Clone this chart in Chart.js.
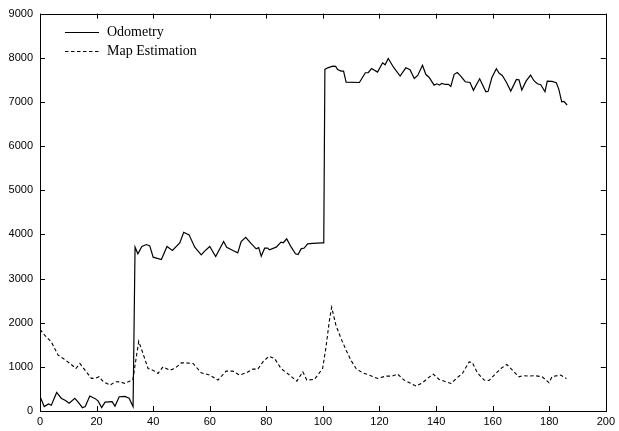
<!DOCTYPE html>
<html>
<head>
<meta charset="utf-8">
<script src="https://cdn.jsdelivr.net/npm/chart.js@4.4.1/dist/chart.umd.min.js"></script>
<style>
    html, body { margin: 0; padding: 0; background: #fff; }
    #wrap { width: 619px; height: 431px; }
</style>
</head>
<body>
<div id="wrap"><canvas id="odoChart" width="619" height="431"></canvas></div>
<script>
// Axis setup
const X_MIN = 0, X_MAX = 200, X_STEP = 20;
const Y_MIN = 0, Y_MAX = 9000, Y_STEP = 1000;
const seriesNames = ['Odometry', 'Map Estimation'];

// Odometry (solid)
const odoX = [0, 1.5, 3, 4, 5.9, 7.5, 9, 10.3, 12.3, 13.5, 15, 16, 17.6, 19.5, 20.5, 21.8, 23, 25.5, 26.5, 28, 30, 31.5, 32.9,
    33.6, 34.6, 36, 37.6, 38.8, 40, 42.9, 44.9, 46.8, 49.4, 50.8, 52.7, 54.7, 57, 58.2, 60, 62.1, 64.9, 66, 68.2, 69.9,
    71.1, 72.7, 74.5, 76.4, 77.3, 78.2, 79.4, 80.5, 81.1, 83.5, 85.2, 86, 87.2, 88.8, 90.3, 91.2, 92.3, 93.4, 94.6, 96.4, 99.7,
    100.3, 100.7, 101.7, 103.5, 104.5, 105.2, 106.4, 107.3, 108.2, 112.9, 115, 116, 117.2, 119.3, 121.1, 122, 123.1, 125,
    127.3, 129.3, 130.8, 132.3, 133.5, 135.2, 136.4, 137.5, 139.3, 140.3, 141.2, 142, 143.3, 144.4, 145.2, 146.4, 147.5,
    148.8, 150.3, 152, 153.2, 155.4, 157.6, 158.4, 159.7, 161.3, 162.3, 163.4, 164.8, 166.4, 168.4, 169.3, 170.3, 171.8,
    173.4, 174.6, 175.8, 177, 178.5, 179.3, 181, 182.5, 183.4, 184.4, 185.2, 186.3];
const odoY = [330, 100, 160, 130, 420, 290, 240, 175, 285, 200, 75, 100, 340, 280, 230, 80, 200, 210, 110, 323, 330, 290, 100,
    3710, 3560, 3725, 3770, 3740, 3484, 3431, 3725, 3634, 3808, 4048, 3989, 3710, 3537, 3620, 3725, 3499, 3838, 3710, 3634, 3582,
    3838, 3935, 3800, 3672, 3700, 3506, 3687, 3690, 3650, 3710, 3823, 3810, 3898, 3710, 3560, 3545, 3672, 3690, 3785, 3795, 3808,
    3808, 7735, 7772, 7810, 7805, 7735, 7698, 7700, 7450, 7440, 7660, 7665, 7756, 7675, 7885, 7840, 7983, 7780,
    7585, 7772, 7730, 7532, 7600, 7830, 7620, 7560, 7380, 7410, 7380, 7420, 7395, 7400, 7350, 7625, 7665,
    7580, 7457, 7440, 7262, 7524, 7231, 7240, 7546, 7750, 7650, 7600, 7450, 7246, 7509, 7500, 7269, 7470,
    7607, 7480, 7411, 7390, 7231, 7472, 7465, 7434, 7284, 7000, 7010, 6930];

// Map Estimation (dashed)
const mapX = [0, 1.7, 4, 6.4, 8.2, 10.6, 12.7, 14.1, 15.9, 18.2, 19.5, 20.9, 22.4, 24.8, 26.6, 28.3, 30, 31.8, 32.8,
    34.9, 36.4, 38.2, 40, 41.7, 43.5, 45.9, 47.6, 50, 51.7, 54.1, 57, 60, 62.9, 65.8, 68.2, 70.5, 72.9, 75.2, 77, 78.8,
    80.9, 82.9, 85.2, 88.2, 90.8, 92.9, 94.3, 97, 99.9, 101.1, 102.3, 103.1, 104.6, 106.4, 108.2, 109.9, 111.7, 114,
    116.4, 119.3, 122.3, 124.5, 126.4, 128.7, 131.1, 132.9, 135.2, 137, 139, 141.1, 143.5, 145.3, 147.6, 149.3, 151.7,
    152.8, 154.6, 157, 158.7, 161.1, 162.9, 165, 167, 169.3, 170.8, 172.8, 175, 177.5, 179.9, 181, 184, 186.1];
const mapY = [1850, 1715, 1565, 1264, 1190, 1076, 963, 1076, 925, 738, 740, 775, 662, 587, 662, 660, 625, 677, 700,
    1580, 1302, 963, 920, 850, 1000, 925, 963, 1090, 1090, 1076, 865, 813, 700, 903, 903, 813, 865, 948, 950, 1113,
    1241, 1190, 963, 813, 677, 888, 700, 715, 963, 1451, 2054, 2350, 1941, 1641, 1377, 1151, 963, 865,
    813, 738, 790, 790, 835, 700, 625, 564, 640, 738, 835, 715, 662, 625, 760, 850, 1113,
    1100, 865, 700, 690, 850, 963, 1054, 925, 775, 800, 790, 800, 775, 640, 780, 813, 738];

const toPoints = (xs, ys) => xs.map((x, i) => ({ x: x, y: ys[i] }));

// Box, inward ticks on all four sides, legend inside the plot
const framePlugin = {
    id: 'frame',
    afterDraw(chart) {
        const { ctx, chartArea: a, scales } = chart;
        ctx.save();
        ctx.strokeStyle = '#000';
        ctx.lineWidth = 1;
        ctx.setLineDash([]);
        ctx.strokeRect(Math.round(a.left) + 0.5, Math.round(a.top) + 0.5,
            Math.round(a.right - a.left), Math.round(a.bottom - a.top));

        const TL = 5;
        ctx.beginPath();
        scales.x.ticks.forEach(t => {
            const px = Math.round(scales.x.getPixelForValue(t.value)) + 0.5;
            ctx.moveTo(px, a.bottom); ctx.lineTo(px, a.bottom - TL);
            ctx.moveTo(px, a.top); ctx.lineTo(px, a.top + TL);
        });
        scales.y.ticks.forEach(t => {
            const py = Math.round(scales.y.getPixelForValue(t.value)) + 0.5;
            ctx.moveTo(a.left, py); ctx.lineTo(a.left + TL, py);
            ctx.moveTo(a.right, py); ctx.lineTo(a.right - TL, py);
        });
        ctx.stroke();

        // legend
        ctx.font = '14px "Liberation Serif", "Times New Roman", serif';
        ctx.fillStyle = '#000';
        ctx.textBaseline = 'middle';
        chart.data.datasets.forEach((ds, i) => {
            const y = 32.5 + i * 19;
            ctx.lineWidth = ds.borderWidth;
            ctx.setLineDash(ds.borderDash || []);
            ctx.beginPath();
            ctx.moveTo(65, y); ctx.lineTo(99, y);
            ctx.stroke();
            ctx.fillText(ds.label, 107, y);
        });
        ctx.restore();
    }
};

const ctx = document.getElementById('odoChart').getContext('2d');
const chart = new Chart(ctx, {
    type: 'line',
    data: {
        datasets: [{
            label: seriesNames[0],
            data: toPoints(odoX, odoY),
            borderColor: '#000',
            borderWidth: 1.2,
            pointRadius: 0,
            tension: 0,
            fill: false
        }, {
            label: seriesNames[1],
            data: toPoints(mapX, mapY),
            borderColor: '#000',
            borderWidth: 1.1,
            borderDash: [3.5, 2.5],
            pointRadius: 0,
            tension: 0,
            fill: false
        }]
    },
    options: {
        responsive: false,
        animation: false,
        layout: { padding: { top: 12, right: 12, left: 0, bottom: 0 } },
        plugins: {
            legend: { display: false },
            tooltip: { enabled: false }
        },
        scales: {
            x: {
                type: 'linear',
                min: X_MIN, max: X_MAX,
                grid: { display: false, drawTicks: false },
                border: { display: false },
                ticks: {
                    stepSize: X_STEP,
                    padding: 4,
                    color: '#000',
                    maxRotation: 0,
                    callback: v => String(v),
                    font: { family: '"Liberation Sans", Arial, sans-serif', size: 11 }
                },
                afterFit: s => { s.height = 20; }
            },
            y: {
                min: Y_MIN, max: Y_MAX,
                grid: { display: false, drawTicks: false },
                border: { display: false },
                ticks: {
                    stepSize: Y_STEP,
                    padding: 7,
                    color: '#000',
                    callback: v => String(v),
                    font: { family: '"Liberation Sans", Arial, sans-serif', size: 11 }
                },
                afterFit: s => { s.width = 40; }
            }
        }
    },
    plugins: [framePlugin]
});
</script>
</body>
</html>
